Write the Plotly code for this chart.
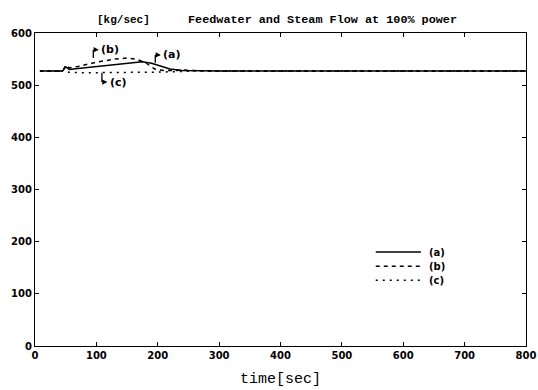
import plotly.graph_objects as go

# --- data ---
t_a = [8, 45, 50, 56, 70, 100, 130, 160, 175, 190, 205, 220, 240, 270, 300, 800]
flow_a = [527, 527, 535, 530, 532, 536, 540, 544, 545, 542, 536, 531, 528, 527.5, 527, 527]

t_b = [8, 45, 50, 56, 70, 100, 130, 150, 165, 180, 195, 210, 225, 240, 260, 300, 800]
flow_b = [527, 527, 538, 533, 536, 544, 550, 552, 550, 543, 531, 528, 528, 529, 528, 527, 527]

t_c = [8, 45, 55, 70, 100, 150, 200, 230, 260, 800]
flow_c = [527, 527, 525, 524, 524, 524, 525, 526, 527, 527]

x_ticks = [0, 100, 200, 300, 400, 500, 600, 700, 800]
y_ticks = [0, 100, 200, 300, 400, 500, 600]

series_names = ["(a)", "(b)", "(c)"]
series_dash = ["solid", "4px,4px", "2px,5px"]

fig = go.Figure()
for tx, fy, nm, ds in zip([t_a, t_b, t_c], [flow_a, flow_b, flow_c], series_names, series_dash):
    fig.add_trace(go.Scatter(x=tx, y=fy, mode="lines", name=nm, showlegend=False,
                             line=dict(color="black", width=1.5, dash=ds)))

# hand-drawn style legend (bottom right)
leg_x0, leg_x1, leg_y0, leg_dy = 0.694, 0.786, 0.300, 0.045
for i, (nm, ds) in enumerate(zip(series_names, series_dash)):
    yy = leg_y0 - i * leg_dy
    fig.add_shape(type="line", xref="paper", yref="paper", x0=leg_x0, x1=leg_x1, y0=yy, y1=yy,
                  line=dict(color="black", width=1.5, dash=ds))
    fig.add_annotation(xref="paper", yref="paper", x=leg_x1 + 0.012, y=yy,
                       text="<b>" + nm + "</b>", showarrow=False, xanchor="left", yanchor="middle",
                       font=dict(family="DejaVu Sans", size=10, color="black"))

# hook arrows with labels
hooks = [  # (x, y_from, y_to, x_arrow_end, text)
    (95, 552, 568, 104, "(b)"),
    (196, 543, 558, 205, "(a)"),
    (109, 524, 506, 118, "(c)"),
]
for hx, y0, y1, xe, txt in hooks:
    fig.add_shape(type="line", x0=hx, x1=hx, y0=y0, y1=y1,
                  line=dict(color="black", width=1.3))
    fig.add_annotation(x=xe, y=y1, ax=hx, ay=y1, axref="x", ayref="y",
                       showarrow=True, arrowhead=2, arrowsize=0.8, arrowwidth=1.3,
                       arrowcolor="black", text="")
    fig.add_annotation(x=xe + 1, y=y1, text="<b>" + txt + "</b>", showarrow=False,
                       xanchor="left", yanchor="middle",
                       font=dict(family="DejaVu Sans", size=11, color="black"))

fig.add_annotation(xref="paper", yref="paper", x=0.18, y=1.0, yshift=13,
                   text="<b>[kg/sec]</b>", showarrow=False, xanchor="center", yanchor="middle",
                   font=dict(family="Liberation Mono", size=11, color="black"))
fig.add_annotation(xref="paper", yref="paper", x=0.586, y=1.0, yshift=13,
                   text="<b>Feedwater and Steam Flow at 100% power</b>", showarrow=False,
                   xanchor="center", yanchor="middle",
                   font=dict(family="Liberation Mono", size=11.8, color="black"))

axis_common = dict(showline=True, linecolor="black", linewidth=1.3, mirror="ticks",
                   ticks="inside", ticklen=4, tickcolor="black", showgrid=False,
                   zeroline=False, automargin=False,
                   tickfont=dict(family="DejaVu Sans", size=10, color="black", weight="bold"))

fig.update_layout(
    width=538, height=390,
    margin=dict(l=35, r=12, t=33, b=44),
    paper_bgcolor="white", plot_bgcolor="white",
    xaxis=dict(range=[0, 800], tickvals=x_ticks, title=dict(text="time[sec]", standoff=12,
               font=dict(family="Liberation Mono", size=15, color="black")), **axis_common),
    yaxis=dict(range=[0, 600], tickvals=y_ticks, **axis_common),
    showlegend=False,
)

fig.write_html("out.html")
